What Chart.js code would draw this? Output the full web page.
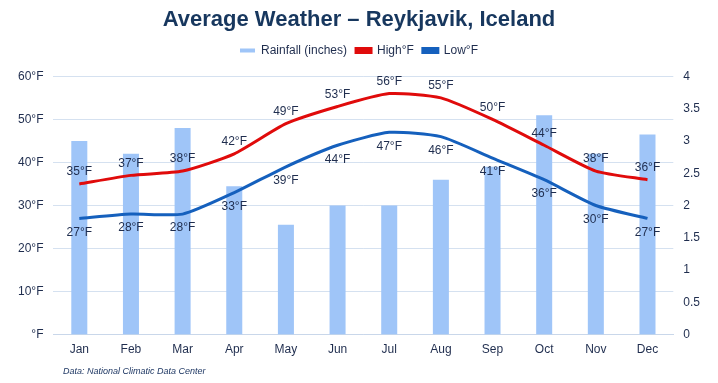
<!DOCTYPE html>
<html>
<head>
<meta charset="utf-8">
<script src="https://cdn.jsdelivr.net/npm/chart.js@4/dist/chart.umd.min.js"></script>
<style>
  html, body { margin: 0; padding: 0; background: #fff; }
  #wrap { position: relative; width: 718px; height: 383px; }
  #note { position: absolute; left: 63px; top: 366px; font: italic 9px "Liberation Sans", Arial, sans-serif; color: #1f3864; }
</style>
</head>
<body>
<div id="wrap">
  <canvas id="weather_chart" width="718" height="383"></canvas>
  <div id="note">Data: National Climatic Data Center</div>
</div>
<script>
const months = ['Jan', 'Feb', 'Mar', 'Apr', 'May', 'Jun', 'Jul', 'Aug', 'Sep', 'Oct', 'Nov', 'Dec'];
const rainfall = [3.0, 2.8, 3.2, 2.3, 1.7, 2.0, 2.0, 2.4, 2.6, 3.4, 2.8, 3.1];
const highF = [35, 37, 38, 42, 49, 53, 56, 55, 50, 44, 38, 36];
const lowF = [27, 28, 28, 33, 39, 44, 47, 46, 41, 36, 30, 27];
const tempTicks = [0, 10, 20, 30, 40, 50, 60];
const rainTicks = [0, 0.5, 1, 1.5, 2, 2.5, 3, 3.5, 4];

const fontFamily = '"Liberation Sans", Arial, sans-serif';
const textColor = '#1f2d4e';

// draws the °F value labels above the high line and below the low line
const tempLabels = {
  id: 'tempLabels',
  afterDatasetsDraw(chart) {
    const ctx = chart.ctx;
    ctx.save();
    ctx.font = '12px ' + fontFamily;
    ctx.fillStyle = textColor;
    ctx.textAlign = 'center';
    [1, 2].forEach((dsIndex) => {
      const meta = chart.getDatasetMeta(dsIndex);
      const values = chart.data.datasets[dsIndex].data;
      meta.data.forEach((pt, i) => {
        if (dsIndex === 1) {
          ctx.textBaseline = 'bottom';
          ctx.fillText(values[i] + '°F', pt.x, pt.y - 6);
        } else {
          ctx.textBaseline = 'top';
          ctx.fillText(values[i] + '°F', pt.x, pt.y + 8);
        }
      });
    });
    ctx.restore();
  }
};

// a bit more room between the legend and the plot
const legendGap = {
  id: 'legendGap',
  beforeInit(chart) {
    const fitLegend = chart.legend.fit;
    chart.legend.fit = function () {
      fitLegend.call(this);
      this.height += 10;
    };
  }
};

const chartCanvas = document.getElementById('weather_chart').getContext('2d');

new Chart(chartCanvas, {
  data: {
    labels: months,
    datasets: [
      {
        type: 'bar',
        label: 'Rainfall (inches)',
        data: rainfall,
        yAxisID: 'yRain',
        backgroundColor: '#9fc5f8',
        barPercentage: 0.31,
        categoryPercentage: 1,
        order: 3
      },
      {
        type: 'line',
        label: 'High°F',
        data: highF,
        yAxisID: 'yTemp',
        borderColor: '#e00b0b',
        backgroundColor: '#e00b0b',
        borderWidth: 3,
        pointRadius: 0,
        tension: 0.2,
        order: 1
      },
      {
        type: 'line',
        label: 'Low°F',
        data: lowF,
        yAxisID: 'yTemp',
        borderColor: '#1560bd',
        backgroundColor: '#1560bd',
        borderWidth: 3,
        pointRadius: 0,
        tension: 0.2,
        order: 2
      }
    ]
  },
  options: {
    responsive: false,
    animation: false,
    layout: { padding: { left: 8, right: 8, top: 0, bottom: 18 } },
    plugins: {
      title: {
        display: true,
        text: 'Average Weather – Reykjavik, Iceland',
        color: '#17375e',
        font: { family: fontFamily, size: 22, weight: 'bold' },
        padding: { top: 7, bottom: 2 }
      },
      legend: {
        labels: {
          color: textColor,
          font: { family: fontFamily, size: 12 },
          boxWidth: 15,
          boxHeight: 4,
          padding: 9,
          sort: (a, b) => a.datasetIndex - b.datasetIndex
        }
      },
      tooltip: { enabled: false }
    },
    scales: {
      x: {
        grid: { display: false, drawTicks: false },
        border: { color: '#c9d7ea' },
        ticks: { color: textColor, font: { family: fontFamily, size: 12 }, padding: 8 }
      },
      yTemp: {
        position: 'left',
        min: 0,
        max: 60,
        afterBuildTicks: (axis) => { axis.ticks = tempTicks.map(v => ({ value: v })); },
        grid: { color: '#d5e1f0', drawTicks: false },
        border: { display: false },
        ticks: {
          color: textColor,
          font: { family: fontFamily, size: 12 },
          padding: 10,
          callback: (v) => (v === 0 ? '' : v) + '°F'
        }
      },
      yRain: {
        position: 'right',
        min: 0,
        max: 4,
        afterBuildTicks: (axis) => { axis.ticks = rainTicks.map(v => ({ value: v })); },
        grid: { display: false, drawTicks: false },
        border: { display: false },
        ticks: {
          color: textColor,
          font: { family: fontFamily, size: 12 },
          padding: 10,
          callback: (v) => String(v)
        }
      }
    }
  },
  plugins: [tempLabels, legendGap]
});
</script>
</body>
</html>
